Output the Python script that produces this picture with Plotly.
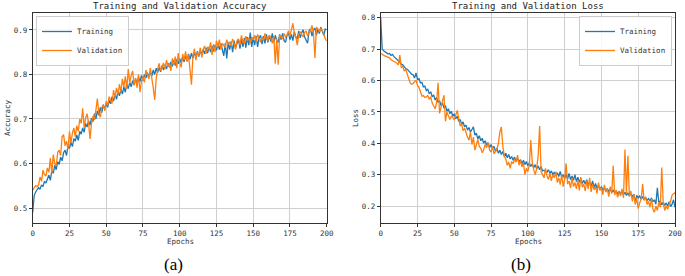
import plotly.graph_objects as go

epochs = list(range(0, 201))

train_acc = [
    0.490, 0.528, 0.536, 0.540, 0.546, 0.542, 0.552, 0.548, 0.560, 0.556,
    0.568, 0.574, 0.562, 0.584, 0.578, 0.596, 0.586, 0.604, 0.598, 0.614,
    0.606, 0.624, 0.630, 0.618, 0.640, 0.634, 0.648, 0.638, 0.656, 0.650,
    0.664, 0.652, 0.672, 0.666, 0.680, 0.670, 0.690, 0.682, 0.696, 0.686,
    0.702, 0.694, 0.712, 0.700, 0.718, 0.708, 0.726, 0.714, 0.732, 0.722,
    0.736, 0.726, 0.742, 0.734, 0.750, 0.740, 0.756, 0.744, 0.762, 0.752,
    0.766, 0.756, 0.772, 0.760, 0.778, 0.768, 0.782, 0.772, 0.786, 0.776,
    0.790, 0.780, 0.794, 0.784, 0.798, 0.786, 0.800, 0.792, 0.804, 0.794,
    0.806, 0.796, 0.810, 0.800, 0.814, 0.804, 0.816, 0.806, 0.820, 0.810,
    0.822, 0.812, 0.826, 0.816, 0.828, 0.818, 0.832, 0.820, 0.834, 0.824,
    0.836, 0.826, 0.840, 0.828, 0.842, 0.830, 0.846, 0.834, 0.848, 0.836,
    0.850, 0.838, 0.852, 0.840, 0.854, 0.844, 0.856, 0.846, 0.860, 0.848,
    0.862, 0.850, 0.864, 0.852, 0.866, 0.854, 0.868, 0.856, 0.870, 0.858,
    0.842, 0.870, 0.836, 0.872, 0.856, 0.874, 0.850, 0.876, 0.860, 0.870,
    0.878, 0.858, 0.880, 0.862, 0.882, 0.860, 0.884, 0.866, 0.894, 0.862,
    0.884, 0.866, 0.886, 0.862, 0.882, 0.888, 0.868, 0.886, 0.870, 0.890,
    0.872, 0.888, 0.874, 0.892, 0.872, 0.888, 0.876, 0.872, 0.890, 0.878,
    0.892, 0.876, 0.872, 0.888, 0.894, 0.878, 0.890, 0.876, 0.896, 0.884,
    0.880, 0.898, 0.882, 0.894, 0.900, 0.884, 0.878, 0.870, 0.898, 0.902,
    0.886, 0.900, 0.904, 0.888, 0.902, 0.892, 0.906, 0.894, 0.888, 0.902,
    0.900,
]

val_acc = [
    0.540, 0.545, 0.550, 0.548, 0.552, 0.570, 0.560, 0.585, 0.575, 0.572,
    0.590, 0.580, 0.612, 0.578, 0.620, 0.600, 0.595, 0.625, 0.630, 0.618,
    0.660, 0.665, 0.640, 0.650, 0.632, 0.672, 0.645, 0.668, 0.680, 0.660,
    0.685, 0.672, 0.700, 0.690, 0.724, 0.680, 0.702, 0.712, 0.690, 0.655,
    0.690, 0.706, 0.698, 0.720, 0.746, 0.712, 0.704, 0.726, 0.732, 0.718,
    0.740, 0.730, 0.750, 0.742, 0.735, 0.765, 0.748, 0.770, 0.755, 0.778,
    0.760, 0.790, 0.772, 0.796, 0.768, 0.812, 0.780, 0.798, 0.808, 0.776,
    0.792, 0.770, 0.800, 0.760, 0.786, 0.794, 0.782, 0.810, 0.800, 0.790,
    0.814, 0.795, 0.770, 0.743, 0.790, 0.812, 0.825, 0.808, 0.820, 0.826,
    0.812, 0.832, 0.818, 0.825, 0.808, 0.836, 0.822, 0.840, 0.814, 0.848,
    0.826, 0.816, 0.846, 0.832, 0.852, 0.828, 0.844, 0.800, 0.777, 0.840,
    0.858, 0.832, 0.850, 0.842, 0.860, 0.838, 0.856, 0.864, 0.846, 0.862,
    0.856, 0.872, 0.844, 0.868, 0.850, 0.876, 0.862, 0.878, 0.856, 0.870,
    0.866, 0.860, 0.878, 0.868, 0.872, 0.864, 0.880, 0.868, 0.856, 0.876,
    0.880, 0.866, 0.888, 0.872, 0.870, 0.886, 0.876, 0.882, 0.870, 0.884,
    0.878, 0.888, 0.874, 0.890, 0.880, 0.872, 0.884, 0.876, 0.892, 0.880,
    0.876, 0.888, 0.882, 0.870, 0.886, 0.824, 0.880, 0.822, 0.888, 0.884,
    0.880, 0.892, 0.884, 0.888, 0.898, 0.886, 0.900, 0.915, 0.892, 0.884,
    0.866, 0.890, 0.896, 0.888, 0.884, 0.894, 0.898, 0.886, 0.892, 0.900,
    0.910, 0.894, 0.837, 0.906, 0.902, 0.896, 0.904, 0.898, 0.892, 0.880,
    0.875,
]

train_loss = [
    0.800, 0.700, 0.695, 0.690, 0.688, 0.684, 0.686, 0.680, 0.683, 0.676,
    0.672, 0.668, 0.664, 0.658, 0.652, 0.650, 0.644, 0.638, 0.636, 0.630,
    0.626, 0.620, 0.618, 0.608, 0.624, 0.604, 0.606, 0.592, 0.594, 0.580,
    0.582, 0.568, 0.572, 0.558, 0.564, 0.548, 0.554, 0.538, 0.546, 0.530,
    0.536, 0.520, 0.528, 0.512, 0.520, 0.502, 0.510, 0.494, 0.502, 0.486,
    0.494, 0.478, 0.486, 0.470, 0.476, 0.460, 0.468, 0.452, 0.458, 0.442,
    0.450, 0.436, 0.444, 0.452, 0.426, 0.432, 0.414, 0.424, 0.408, 0.416,
    0.400, 0.408, 0.394, 0.402, 0.386, 0.396, 0.384, 0.390, 0.374, 0.384,
    0.368, 0.378, 0.364, 0.374, 0.358, 0.368, 0.354, 0.364, 0.350, 0.358,
    0.346, 0.356, 0.342, 0.352, 0.340, 0.348, 0.334, 0.346, 0.332, 0.342,
    0.328, 0.338, 0.326, 0.334, 0.322, 0.332, 0.318, 0.328, 0.316, 0.326,
    0.312, 0.314, 0.310, 0.308, 0.316, 0.304, 0.312, 0.300, 0.308, 0.298,
    0.306, 0.294, 0.310, 0.292, 0.300, 0.288, 0.302, 0.286, 0.304, 0.284,
    0.296, 0.282, 0.300, 0.278, 0.292, 0.276, 0.288, 0.272, 0.282, 0.270,
    0.284, 0.268, 0.276, 0.262, 0.280, 0.258, 0.272, 0.256, 0.266, 0.252,
    0.262, 0.250, 0.258, 0.248, 0.256, 0.246, 0.254, 0.244, 0.250, 0.242,
    0.248, 0.240, 0.246, 0.238, 0.250, 0.236, 0.244, 0.234, 0.242, 0.232,
    0.240, 0.230, 0.238, 0.212, 0.234, 0.226, 0.232, 0.222, 0.230, 0.220,
    0.228, 0.218, 0.224, 0.216, 0.226, 0.214, 0.220, 0.206, 0.258, 0.212,
    0.216, 0.204, 0.212, 0.202, 0.210, 0.200, 0.214, 0.198, 0.206, 0.220,
    0.196,
]

val_loss = [
    0.685, 0.684, 0.680, 0.678, 0.676, 0.674, 0.672, 0.666, 0.664, 0.660,
    0.658, 0.655, 0.650, 0.681, 0.640, 0.646, 0.630, 0.636, 0.620, 0.600,
    0.592, 0.588, 0.590, 0.596, 0.600, 0.585, 0.578, 0.565, 0.550, 0.552,
    0.546, 0.548, 0.552, 0.540, 0.548, 0.528, 0.520, 0.510, 0.530, 0.593,
    0.495, 0.520, 0.535, 0.553, 0.470, 0.500, 0.490, 0.476, 0.486, 0.482,
    0.474, 0.490, 0.505, 0.480, 0.455, 0.462, 0.440, 0.448, 0.430, 0.420,
    0.410, 0.436, 0.396, 0.420, 0.378, 0.400, 0.412, 0.390, 0.384, 0.370,
    0.380, 0.396, 0.386, 0.402, 0.378, 0.372, 0.390, 0.366, 0.376, 0.382,
    0.400, 0.436, 0.452, 0.390, 0.360, 0.350, 0.330, 0.340, 0.320, 0.342,
    0.335, 0.350, 0.340, 0.362, 0.330, 0.345, 0.325, 0.338, 0.300, 0.320,
    0.310, 0.330, 0.410, 0.340, 0.315, 0.300, 0.320, 0.360, 0.455, 0.310,
    0.300, 0.290, 0.320, 0.296, 0.285, 0.305, 0.280, 0.300, 0.290, 0.310,
    0.275, 0.290, 0.268, 0.300, 0.262, 0.285, 0.336, 0.270, 0.280, 0.258,
    0.290, 0.262, 0.275, 0.255, 0.282, 0.250, 0.292, 0.260, 0.270, 0.248,
    0.280, 0.255, 0.290, 0.245, 0.270, 0.252, 0.262, 0.240, 0.275, 0.250,
    0.258, 0.236, 0.268, 0.244, 0.255, 0.230, 0.262, 0.240, 0.329, 0.235,
    0.250, 0.228, 0.245, 0.232, 0.255, 0.226, 0.380, 0.240, 0.360, 0.230,
    0.248, 0.215, 0.238, 0.205, 0.225, 0.192, 0.210, 0.222, 0.270, 0.218,
    0.230, 0.205, 0.215, 0.196, 0.224, 0.190, 0.180, 0.200, 0.186, 0.212,
    0.196, 0.323, 0.210, 0.186, 0.200, 0.190, 0.205, 0.215, 0.235, 0.240,
    0.243,
]

x_ticks = [0, 25, 50, 75, 100, 125, 150, 175, 200]
acc_ticks = [0.5, 0.6, 0.7, 0.8, 0.9]
loss_ticks = [0.2, 0.3, 0.4, 0.5, 0.6, 0.7, 0.8]

BLUE = "#1f77b4"
ORANGE = "#ff7f0e"
MONO = "DejaVu Sans Mono"
W, H = 685, 276

fig = go.Figure()
fig.add_trace(go.Scatter(x=epochs, y=train_acc, mode="lines", name="Training",
                         line=dict(color=BLUE, width=1.3), xaxis="x", yaxis="y", legend="legend"))
fig.add_trace(go.Scatter(x=epochs, y=val_acc, mode="lines", name="Validation",
                         line=dict(color=ORANGE, width=1.3), xaxis="x", yaxis="y", legend="legend"))
fig.add_trace(go.Scatter(x=epochs, y=train_loss, mode="lines", name="Training",
                         line=dict(color=BLUE, width=1.3), xaxis="x2", yaxis="y2", legend="legend2"))
fig.add_trace(go.Scatter(x=epochs, y=val_loss, mode="lines", name="Validation",
                         line=dict(color=ORANGE, width=1.3), xaxis="x2", yaxis="y2", legend="legend2"))

def px_x(p):
    return p / W

def px_y(p):
    return 1 - p / H

axis_common = dict(showline=True, mirror=True, linecolor="#333333", linewidth=1,
                   showgrid=True, gridcolor="#cfcfcf", gridwidth=1, zeroline=False,
                   ticks="outside", ticklen=3, tickcolor="#333333", tickwidth=1,
                   tickfont=dict(family=MONO, size=7.5, color="#333333"),
                   automargin=False)

ydom = [px_y(222.7), px_y(13)]
legend_common = dict(bgcolor="rgba(255,255,255,0.85)", bordercolor="#cccccc", borderwidth=1,
                     font=dict(family=MONO, size=7.5, color="#333333"),
                     itemwidth=30, tracegroupgap=0)
fig.update_layout(
    width=W, height=H,
    margin=dict(l=0, r=0, t=0, b=0),
    paper_bgcolor="white", plot_bgcolor="white",
    showlegend=True,
    xaxis=dict(domain=[px_x(32.7), px_x(326.7)], range=[0, 200], tickvals=x_ticks,
               anchor="y", **axis_common),
    yaxis=dict(domain=ydom, range=[0.467, 0.938], tickvals=acc_ticks,
               tickformat=".1f", anchor="x", **axis_common),
    xaxis2=dict(domain=[px_x(380.7), px_x(675)], range=[0, 200], tickvals=x_ticks,
                anchor="y2", **axis_common),
    yaxis2=dict(domain=ydom, range=[0.147, 0.815], tickvals=loss_ticks,
                tickformat=".1f", anchor="x2", **axis_common),
    legend=dict(x=px_x(36), y=px_y(16), xanchor="left", yanchor="top", **legend_common),
    legend2=dict(x=px_x(672), y=px_y(16), xanchor="right", yanchor="top", **legend_common),
)

annotations = [
    dict(text="Training and Validation Accuracy", x=px_x(180), y=px_y(6.5),
         font=dict(family=MONO, size=9, color="#222222")),
    dict(text="Training and Validation Loss", x=px_x(527.5), y=px_y(6.5),
         font=dict(family=MONO, size=9, color="#222222")),
    dict(text="Epochs", x=px_x(180), y=px_y(241),
         font=dict(family=MONO, size=7.5, color="#333333")),
    dict(text="Epochs", x=px_x(528), y=px_y(241),
         font=dict(family=MONO, size=7.5, color="#333333")),
    dict(text="Accuracy", x=px_x(7), y=px_y(118), textangle=-90,
         font=dict(family=MONO, size=7.5, color="#333333")),
    dict(text="Loss", x=px_x(355), y=px_y(118), textangle=-90,
         font=dict(family=MONO, size=7.5, color="#333333")),
    dict(text="(a)", x=px_x(173), y=px_y(264), font=dict(family="Liberation Serif", size=17, color="#000000")),
    dict(text="(b)", x=px_x(521), y=px_y(264), font=dict(family="Liberation Serif", size=17, color="#000000")),
]
for a in annotations:
    a.update(xref="paper", yref="paper", showarrow=False, xanchor="center", yanchor="middle")
fig.update_layout(annotations=annotations)

fig.write_html("out.html", config={"displayModeBar": False},
               post_script="document.body.style.margin='0px';document.body.style.overflow='hidden';")
